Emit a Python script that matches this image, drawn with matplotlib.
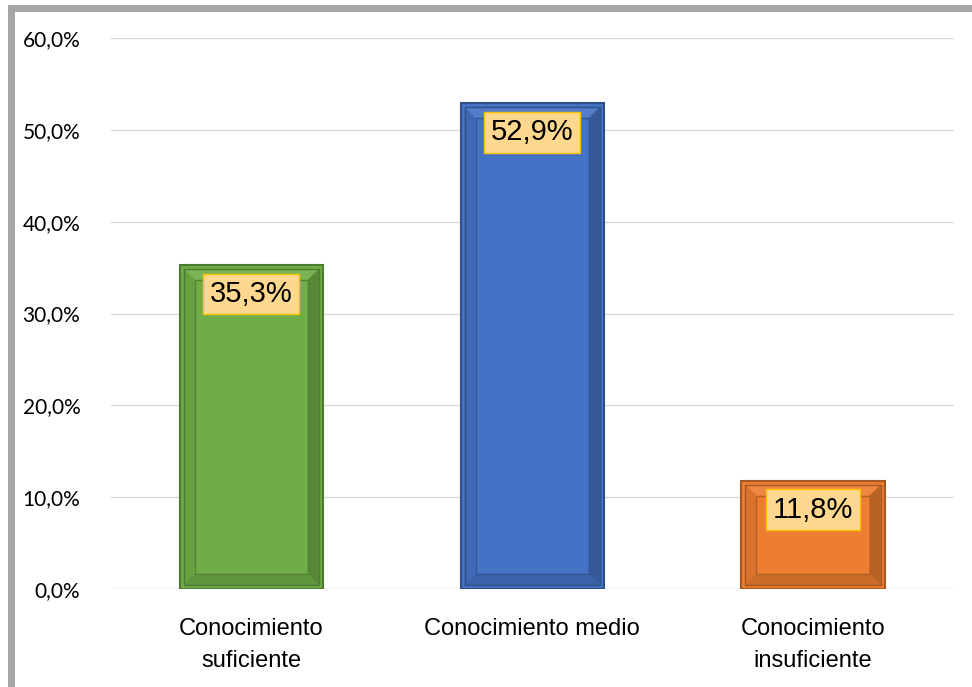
import matplotlib.pyplot as plt
from matplotlib.patches import Polygon, Rectangle
import matplotlib.colors as mcolors

categories = ['Conocimiento\nsuficiente', 'Conocimiento medio', 'Conocimiento\ninsuficiente']
values = [35.3, 52.9, 11.8]
labels = ['35,3%', '52,9%', '11,8%']
colors = ['#70ad47', '#4472c4', '#ed7d31']
yticks = [0, 10, 20, 30, 40, 50, 60]


def shade(color, f):
    r, g, b = mcolors.to_rgb(color)
    if f < 1:
        return (r * f, g * f, b * f)
    f = f - 1
    return (r + (1 - r) * f, g + (1 - g) * f, b + (1 - b) * f)


fig = plt.figure(figsize=(9.72, 6.87), dpi=100)
ax = fig.add_axes([0.114, 0.1426, 0.867, 0.8021])

# frame lines on the left and top of the figure
fig.patches.append(Rectangle((8 / 972, 0), 7 / 972, 1 - 5 / 687, transform=fig.transFigure,
                             facecolor='#a6a6a6', edgecolor='none'))
fig.patches.append(Rectangle((8 / 972, 1 - 12 / 687), 1, 7 / 687, transform=fig.transFigure,
                             facecolor='#a6a6a6', edgecolor='none'))

ax.set_xlim(-0.5, 2.5)
ax.set_ylim(0, 60)
x = range(len(categories))
bars = ax.bar(x, values, width=0.51, color=colors, zorder=2,
              edgecolor=[shade(c, 0.7) for c in colors], linewidth=1.5)

# bevel effect on each bar
px_x = 3 / ax.bbox.width
px_y = 60 / ax.bbox.height
for bar, c in zip(bars, colors):
    x0, y0 = bar.get_x(), bar.get_y()
    x1, y1 = x0 + bar.get_width(), y0 + bar.get_height()
    ox, oy = 4 * px_x, 4 * px_y
    bx, by = 11 * px_x, 11 * px_y
    ax0, ay0, ax1, ay1 = x0 + ox, y0 + oy, x1 - ox, y1 - oy
    ix0, iy0, ix1, iy1 = ax0 + bx, ay0 + by, ax1 - bx, ay1 - by
    sides = [
        ([(ax0, ay1), (ax1, ay1), (ix1, iy1), (ix0, iy1)], shade(c, 1.08)),
        ([(ax0, ay0), (ax0, ay1), (ix0, iy1), (ix0, iy0)], shade(c, 0.92)),
        ([(ax1, ay0), (ax1, ay1), (ix1, iy1), (ix1, iy0)], shade(c, 0.78)),
        ([(ax0, ay0), (ax1, ay0), (ix1, iy0), (ix0, iy0)], shade(c, 0.86)),
    ]
    for pts, col in sides:
        ax.add_patch(Polygon(pts, closed=True, facecolor=col, edgecolor='none', zorder=3))
    ax.add_patch(Rectangle((ax0, ay0), ax1 - ax0, ay1 - ay0, fill=False,
                           edgecolor=shade(c, 0.7), linewidth=1, zorder=4))
    ax.add_patch(Rectangle((ix0, iy0), ix1 - ix0, iy1 - iy0, fill=False,
                           edgecolor=shade(c, 0.75), linewidth=1, zorder=4))

for xi, v, lab in zip(x, values, labels):
    ax.annotate(lab, (xi, v), xytext=(0, -21), textcoords='offset points',
                ha='center', va='center', fontsize=21, family='Liberation Sans', zorder=5,
                bbox=dict(boxstyle='square,pad=0.22', facecolor='#fed88f',
                          edgecolor='#ffc000', linewidth=1))

ax.set_yticks(yticks)
ax.set_yticklabels([f'{t:.1f}%'.replace('.', ',') for t in yticks], family='Lato', fontsize=15)
ax.set_xticks(list(x))
ax.set_xticklabels(categories, family='Liberation Sans', fontsize=17, linespacing=1.55)
ax.tick_params(axis='both', length=0)
ax.tick_params(axis='y', pad=22)
ax.tick_params(axis='x', pad=21)
ax.grid(axis='y', color='#d9d9d9', linewidth=1, zorder=0)
for s in ax.spines.values():
    s.set_visible(False)

fig.savefig('out.png', dpi=100)
